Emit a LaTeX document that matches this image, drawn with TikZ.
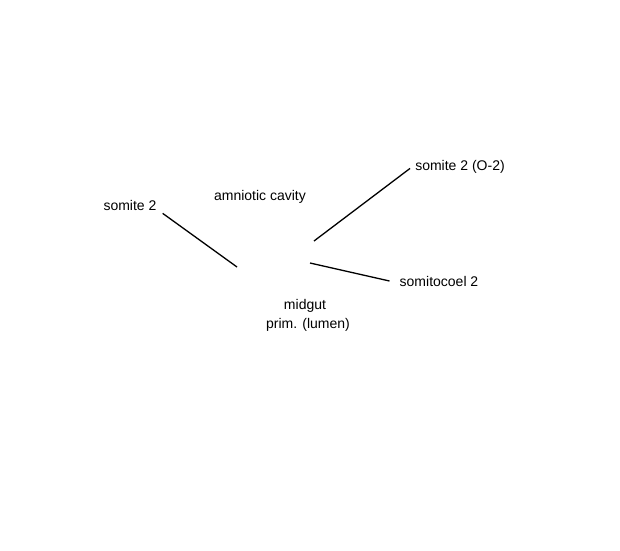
\documentclass[tikz,border=0pt]{standalone}
\usepackage{fontspec}
\setmainfont{Liberation Sans}
\usetikzlibrary{positioning}

\begin{document}
\begin{tikzpicture}[x=1pt, y=-1pt,
    lbl/.style={font=\fontsize{14}{19}\selectfont, inner sep=3pt, anchor=base},
    pointer/.style={line width=1.3pt}]
  \useasboundingbox[fill=white] (0,0) rectangle (620,550);

  \node[lbl] (somite) at (130,210) {somite 2};
  \node[lbl] (cavity) at (260,200) {amniotic cavity};
  \node[lbl] (somiteO) at (460,170) {somite 2 (O-2)};
  \node[lbl] (coel) at (439,286) {somitocoel 2};
  \node[lbl] (midgut) at (305,309) {midgut};
  \node[lbl] (lumen) at (308,328) {prim. (lumen)};

  \coordinate (endA) at (237,267);
  \coordinate (endB) at (314,241);
  \coordinate (endC) at (310,263);

  \draw[pointer] ([xshift=3]somite.south east) -- (endA);
  \draw[pointer] (endB) -- ([xshift=-2,yshift=-2]somiteO.west);
  \draw[pointer] (endC) -- ([xshift=-7]coel.west);
\end{tikzpicture}
\end{document}
